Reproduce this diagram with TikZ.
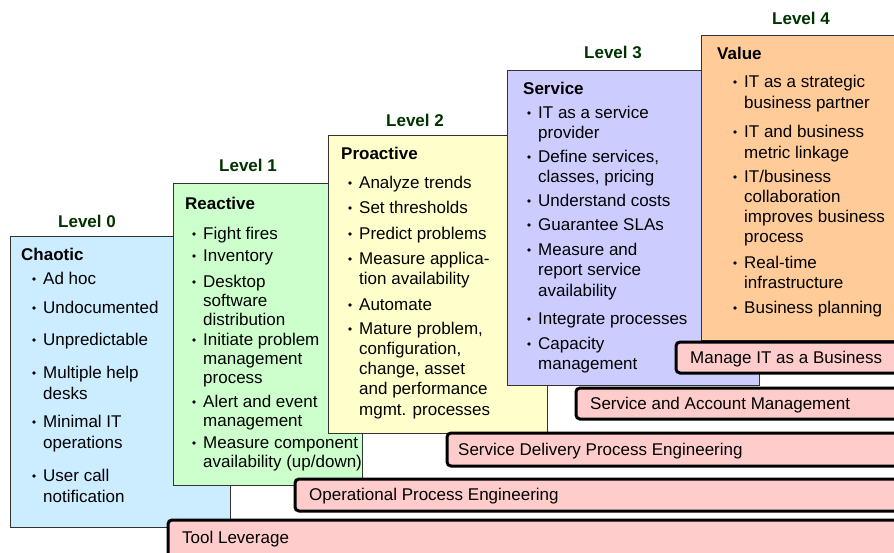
\documentclass[tikz,border=0pt]{standalone}
\usepackage{fontspec}
\setmainfont{Liberation Sans}
\definecolor{chaosblue}{RGB}{204,236,255}
\definecolor{reactgreen}{RGB}{204,255,204}
\definecolor{proyellow}{RGB}{255,255,204}
\definecolor{servpurple}{RGB}{204,204,255}
\definecolor{valorange}{RGB}{255,204,153}
\definecolor{barpink}{RGB}{255,204,204}
\definecolor{lvlgreen}{RGB}{0,51,0}
\tikzset{
  lvl/.style={font=\fontsize{17}{20}\selectfont\bfseries, text=lvlgreen, anchor=base, inner sep=0pt},
  ttl/.style={font=\fontsize{17}{20}\selectfont\bfseries, anchor=base west, inner sep=0pt},
  itm/.style={font=\fontsize{17}{#1}\selectfont, anchor=base west, inner sep=0pt},
  itm/.default=20.5,
  levelbox/.style={draw=black!80, line width=0.8pt},
  bar/.style={draw=black, line width=3pt, rounded corners=4pt, fill=barpink},
  barlabel/.style={font=\fontsize{17}{20}\selectfont, anchor=base west, inner sep=0pt},
}
\newcommand\lines[1]{\begin{tabular}[t]{@{}l@{}}#1\end{tabular}}
\newcommand\bul[1]{\fill ([xshift=-9pt,yshift=5pt]#1.base west) circle (1.8pt);}
\begin{document}
\begin{tikzpicture}[x=1pt, y=-1pt]
        \useasboundingbox (0,0) rectangle (894,552);
        \clip (0,0) rectangle (894,552);
        \draw [levelbox, fill=chaosblue]  (10,236) rectangle (230,527);   %Level 0
        \node [lvl] (lv0) at (87,227)     {Level 0};
        \node [ttl] (chaotic) at (21,260) {Chaotic};
        \node [itm=21] (c1) at (43,284)   {Ad hoc};
        \node [itm=21] (c2) at (43,313)   {Undocumented};
        \node [itm=21] (c3) at (43,345)   {Unpredictable};
        \node [itm=21] (c4) at (43,378)   {\lines{Multiple help\\desks}};
        \node [itm=21] (c5) at (43,427)   {\lines{Minimal IT\\operations}};
        \node [itm=21] (c6) at (43,481)   {\lines{User call\\notification}};
        \foreach \n in {c1,c2,c3,c4,c5,c6} {\bul{\n}}
        \draw [levelbox, fill=reactgreen] (173,183) rectangle (362,485);  %Level 1
        \node [lvl] (lv1) at (248,171)    {Level 1};
        \node [ttl] (reactive) at (185,209) {Reactive};
        \node [itm=19] (r1) at (203,239)  {Fight fires};
        \node [itm=19] (r2) at (203,261)  {Inventory};
        \node [itm=19] (r3) at (203,287)  {\lines{Desktop\\software\\distribution}};
        \node [itm=19] (r4) at (203,345)  {\lines{Initiate problem\\management\\process}};
        \node [itm=19] (r5) at (203,407)  {\lines{Alert and event\\management}};
        \node [itm=19] (r6) at (203,448)  {\lines{Measure component\\availability (up/down)}};
        \foreach \n in {r1,r2,r3,r4,r5,r6} {\bul{\n}}
        \draw [levelbox, fill=proyellow]  (328,135) rectangle (547,433);  %Level 2
        \node [lvl] (lv2) at (415,126)    {Level 2};
        \node [ttl] (proactive) at (341,159) {Proactive};
        \node [itm] (p1) at (359,188)     {Analyze trends};
        \node [itm] (p2) at (359,213)     {Set thresholds};
        \node [itm] (p3) at (359,239)     {Predict problems};
        \node [itm] (p4) at (359,264)     {\lines{Measure applica-\\tion availability}};
        \node [itm] (p5) at (359,310)     {Automate};
        \node [itm=20.3] (p6) at (359,334) {\lines{Mature problem,\\configuration,\\change, asset\\and performance\\mgmt. processes}};
        \foreach \n in {p1,p2,p3,p4,p5,p6} {\bul{\n}}
        \draw [levelbox, fill=servpurple] (507,70) rectangle (759,385);   %Level 3
        \node [lvl] (lv3) at (613,58)     {Level 3};
        \node [ttl] (service) at (523,94) {Service};
        \node [itm] (s1) at (538,118)     {\lines{IT as a service\\provider}};
        \node [itm] (s2) at (538,162)     {\lines{Define services,\\classes, pricing}};
        \node [itm] (s3) at (538,206)     {Understand costs};
        \node [itm] (s4) at (538,230)     {Guarantee SLAs};
        \node [itm] (s5) at (538,255)     {\lines{Measure and\\report service\\availability}};
        \node [itm] (s6) at (538,324)     {Integrate processes};
        \node [itm] (s7) at (538,349)     {\lines{Capacity\\management}};
        \foreach \n in {s1,s2,s3,s4,s5,s6,s7} {\bul{\n}}
        \draw [levelbox, fill=valorange]  (701,35) rectangle (904,340);   %Level 4
        \node [lvl] (lv4) at (801,24)     {Level 4};
        \node [ttl] (value) at (717,59)   {Value};
        \node [itm=21] (v1) at (744,87)   {\lines{IT as a strategic\\business partner}};
        \node [itm=21] (v2) at (744,137)  {\lines{IT and business\\metric linkage}};
        \node [itm=20] (v3) at (744,182)  {\lines{IT/business\\collaboration\\improves business\\process}};
        \node [itm=20] (v4) at (744,268)  {\lines{Real-time\\infrastructure}};
        \node [itm] (v5) at (744,313)     {Business planning};
        \foreach \n in {v1,v2,v3,v4,v5} {\bul{\n}}
        \draw [bar] (676,342) rectangle (910,373);                        %bars
        \node [barlabel] (manage) at (690,363)     {Manage IT as a Business};
        \draw [bar] (576,388) rectangle (910,419);
        \node [barlabel] (account) at (590,409)    {Service and Account Management};
        \draw [bar] (447,433) rectangle (910,466);
        \node [barlabel] (delivery) at (458,455)   {Service Delivery Process Engineering};
        \draw [bar] (295,479) rectangle (910,511);
        \node [barlabel] (operational) at (309,500) {Operational Process Engineering};
        \draw [bar] (168,520) rectangle (910,570);
        \node [barlabel] (tool) at (182,543)       {Tool Leverage};
\end{tikzpicture}
\end{document}
